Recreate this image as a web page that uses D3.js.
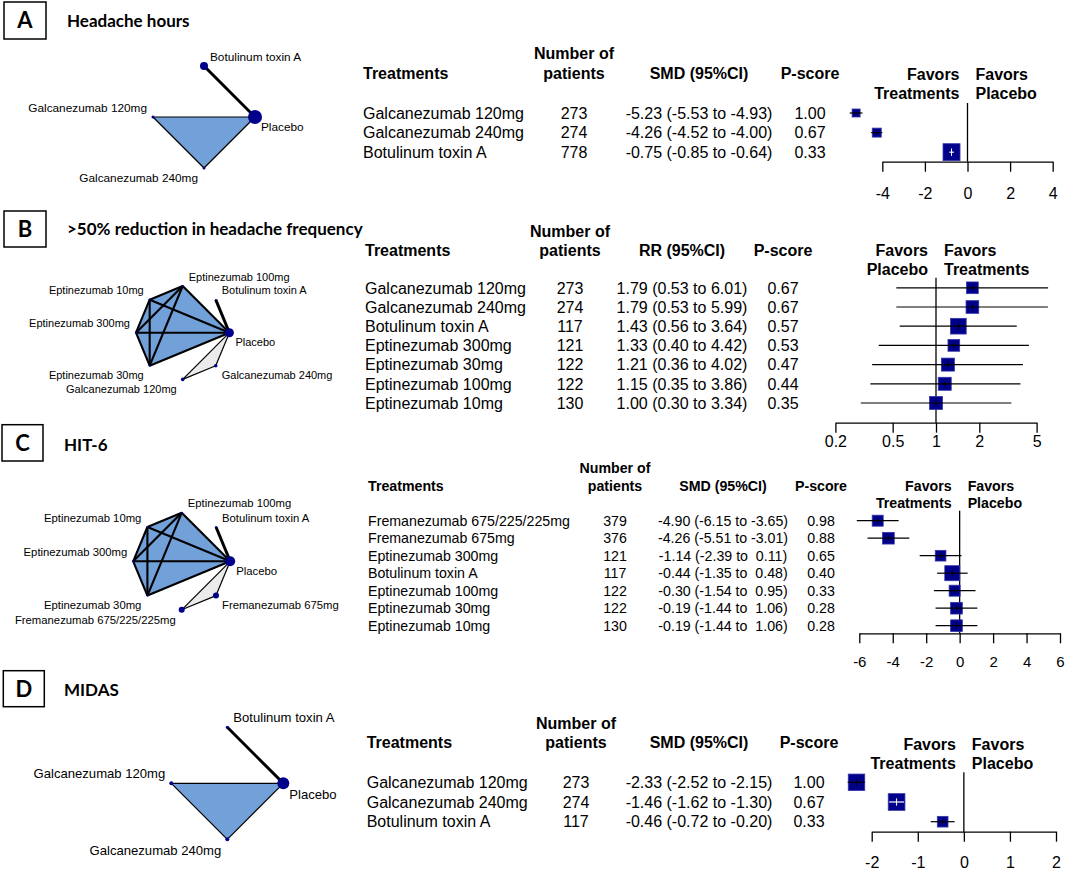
<!DOCTYPE html>
<html>
<head>
<meta charset="utf-8">
<script src="https://cdn.jsdelivr.net/npm/d3@7"></script>
<style>
body { margin: 0; background: #fff; }
svg text { font-family: "Liberation Sans", Arial, sans-serif; fill: #000; }
svg text.pre { white-space: pre; }
</style>
</head>
<body>
<svg id="fig" width="1065" height="870"></svg>
<script>
// ---------- A: headache hours
const aTreat = ["Galcanezumab 120mg", "Galcanezumab 240mg", "Botulinum toxin A"]
const aN = [273, 274, 778]
const aEst = [-5.23, -4.26, -0.75]
const aLow = [-5.53, -4.52, -0.85]
const aHigh = [-4.93, -4.00, -0.64]
const aPscore = [1.00, 0.67, 0.33]
const aWeight = [64, 81, 289]
const aTicks = [-4, -2, 0, 2, 4]
const aNodes = ["Placebo", "Botulinum toxin A", "Galcanezumab 120mg", "Galcanezumab 240mg"]
const aEdges = [["Placebo", "Botulinum toxin A", 3], ["Placebo", "Galcanezumab 120mg", 1],
	["Placebo", "Galcanezumab 240mg", 1], ["Galcanezumab 120mg", "Galcanezumab 240mg", 1]]
const aArms = [["Placebo", "Galcanezumab 120mg", "Galcanezumab 240mg"]]

// ---------- B: >50% reduction in headache frequency
const bTreat = ["Galcanezumab 120mg", "Galcanezumab 240mg", "Botulinum toxin A", "Eptinezumab 300mg",
	"Eptinezumab 30mg", "Eptinezumab 100mg", "Eptinezumab 10mg"]
const bN = [273, 274, 117, 121, 122, 122, 130]
const bEst = [1.79, 1.79, 1.43, 1.33, 1.21, 1.15, 1.00]
const bLow = [0.53, 0.53, 0.56, 0.40, 0.36, 0.35, 0.30]
const bHigh = [6.01, 5.99, 3.64, 4.42, 4.02, 3.86, 3.34]
const bPscore = [0.67, 0.67, 0.57, 0.53, 0.47, 0.44, 0.35]
const bWeight = [137, 161, 246, 137, 169, 169, 169]
const bTicks = [0.2, 0.5, 1, 2, 5]
const bNodes = ["Placebo", "Botulinum toxin A", "Eptinezumab 100mg", "Eptinezumab 10mg",
	"Eptinezumab 300mg", "Eptinezumab 30mg", "Galcanezumab 120mg", "Galcanezumab 240mg"]
const eptiGroup = ["Placebo", "Eptinezumab 100mg", "Eptinezumab 10mg", "Eptinezumab 300mg", "Eptinezumab 30mg"]
const eptiEdges = d3.cross(eptiGroup, eptiGroup)
	.filter(p => eptiGroup.indexOf(p[0]) < eptiGroup.indexOf(p[1]))
	.map(p => [p[0], p[1], 2])
const bEdges = [["Placebo", "Botulinum toxin A", 3],
	["Placebo", "Galcanezumab 120mg", 1], ["Placebo", "Galcanezumab 240mg", 1],
	["Galcanezumab 120mg", "Galcanezumab 240mg", 1]].concat(eptiEdges)
const bArms = [eptiGroup, ["Placebo", "Galcanezumab 120mg", "Galcanezumab 240mg"]]

// ---------- C: HIT-6
const cTreat = ["Fremanezumab 675/225/225mg", "Fremanezumab 675mg", "Eptinezumab 300mg", "Botulinum toxin A",
	"Eptinezumab 100mg", "Eptinezumab 30mg", "Eptinezumab 10mg"]
const cN = [379, 376, 121, 117, 122, 122, 130]
const cEst = [-4.90, -4.26, -1.14, -0.44, -0.30, -0.19, -0.19]
const cLow = [-6.15, -5.51, -2.39, -1.35, -1.54, -1.44, -1.44]
const cHigh = [-3.65, -3.01, 0.11, 0.48, 0.95, 1.06, 1.06]
const cPscore = [0.98, 0.88, 0.65, 0.40, 0.33, 0.28, 0.28]
const cWeight = [121, 137, 114, 225, 121, 137, 137]
const cTicks = [-6, -4, -2, 0, 2, 4, 6]
const cNodes = ["Placebo", "Botulinum toxin A", "Eptinezumab 100mg", "Eptinezumab 10mg",
	"Eptinezumab 300mg", "Eptinezumab 30mg", "Fremanezumab 675/225/225mg", "Fremanezumab 675mg"]
const cEdges = [["Placebo", "Botulinum toxin A", 3],
	["Placebo", "Fremanezumab 675/225/225mg", 1], ["Placebo", "Fremanezumab 675mg", 1],
	["Fremanezumab 675/225/225mg", "Fremanezumab 675mg", 1]].concat(eptiEdges)
const cArms = [eptiGroup, ["Placebo", "Fremanezumab 675/225/225mg", "Fremanezumab 675mg"]]

// ---------- D: MIDAS
const dTreat = ["Galcanezumab 120mg", "Galcanezumab 240mg", "Botulinum toxin A"]
const dN = [273, 274, 117]
const dEst = [-2.33, -1.46, -0.46]
const dLow = [-2.52, -1.62, -0.72]
const dHigh = [-2.15, -1.30, -0.20]
const dPscore = [1.00, 0.67, 0.33]
const dWeight = [272, 279, 114]
const dTicks = [-2, -1, 0, 1, 2]
const dNodes = aNodes
const dEdges = aEdges
const dArms = aArms

const blueFill = "#72a0d8"
const greyFill = "#ebebeb"
const navy = "#00008b"

var panels = [
	{
		letter: "A", box: [4, 2, 42, 37], title: "Headache hours", titlePos: [67, 27],
		net: {nodes: aNodes, edges: aEdges, arms: aArms, fills: [blueFill], cx: 204, cy: 117, r: 51, font: 11.8,
			nodeR: {"Placebo": 7, "Botulinum toxin A": 4, "Galcanezumab 120mg": 1.5, "Galcanezumab 240mg": 1.5}},
		treat: aTreat, n: aN, est: aEst, low: aLow, high: aHigh, pscore: aPscore, weight: aWeight, measure: "SMD (95%CI)",
		cols: [363, 574, 699, 810], headY: 79, numY: 59, font: 16, y0: 113, step: 19.6,
		log: false, domain: [-4, 4], range: [882.3, 1052.7], ticks: aTicks, axisY: 161.7, labelY: 199, tickFont: 16,
		left: ["Favors", "Treatments"], right: ["Favors", "Placebo"], favY: 80, favFont: 16
	},
	{
		letter: "B", box: [4, 211, 42, 36], title: ">50% reduction in headache frequency", titlePos: [67, 235],
		net: {nodes: bNodes, edges: bEdges, arms: bArms, fills: [blueFill, greyFill], cx: 182.7, cy: 332.7, r: 46.7, font: 11,
			nodeR: {"Placebo": 4.5, "Botulinum toxin A": 0.8, "Galcanezumab 120mg": 1.8, "Galcanezumab 240mg": 1.8}},
		treat: bTreat, n: bN, est: bEst, low: bLow, high: bHigh, pscore: bPscore, weight: bWeight, measure: "RR (95%CI)",
		cols: [365, 570, 682, 783], headY: 256, numY: 237, font: 16, y0: 287.8, step: 19.2,
		log: true, domain: [0.2, 5], range: [835.4, 1036.6], ticks: bTicks, axisY: 422.7, labelY: 447, tickFont: 16,
		left: ["Favors", "Placebo"], right: ["Favors", "Treatments"], favY: 256, favFont: 16
	},
	{
		letter: "C", box: [2, 424.7, 41, 36.3], title: "HIT-6", titlePos: [64, 450.7],
		net: {nodes: cNodes, edges: cEdges, arms: cArms, fills: [blueFill, greyFill], cx: 181.7, cy: 561.3, r: 48.5, font: 11.3,
			nodeR: {"Placebo": 5, "Botulinum toxin A": 1, "Fremanezumab 675/225/225mg": 3, "Fremanezumab 675mg": 3}},
		treat: cTreat, n: cN, est: cEst, low: cLow, high: cHigh, pscore: cPscore, weight: cWeight, measure: "SMD (95%CI)",
		cols: [368, 615, 723, 821], headY: 491, numY: 473.3, font: 14.2, y0: 520.7, step: 17.5,
		log: false, domain: [-6, 6], range: [859.3, 1060], ticks: cTicks, axisY: 633.3, labelY: 667, tickFont: 15,
		left: ["Favors", "Treatments"], right: ["Favors", "Placebo"], favY: 491, favFont: 14.2
	},
	{
		letter: "D", box: [3.3, 670.7, 41, 36], title: "MIDAS", titlePos: [64, 695.7],
		net: {nodes: dNodes, edges: dEdges, arms: dArms, fills: [blueFill], cx: 227.3, cy: 783.3, r: 56, font: 13.1,
			nodeR: {"Placebo": 6, "Botulinum toxin A": 1.5, "Galcanezumab 120mg": 2, "Galcanezumab 240mg": 2}},
		treat: dTreat, n: dN, est: dEst, low: dLow, high: dHigh, pscore: dPscore, weight: dWeight, measure: "SMD (95%CI)",
		cols: [366.7, 576, 699, 809], headY: 748.3, numY: 729.3, font: 16, y0: 782.3, step: 19.7,
		log: false, domain: [-2, 2], range: [871.7, 1056], ticks: dTicks, axisY: 831.7, labelY: 868.3, tickFont: 16,
		left: ["Favors", "Treatments"], right: ["Favors", "Placebo"], favY: 750, favFont: 16
	}
]

const svg = d3.select("#fig")
const boxSide = d3.scaleSqrt().domain([0, 100]).range([0, 10])
const edgeWidth = d3.scaleLinear().domain([1, 3]).range([1.2, 3])

function drawNetwork(g, net) {
	var ang = d3.scaleLinear().domain([0, net.nodes.length]).range([0, 360])
	var pos = {}
	net.nodes.forEach((name, i) => {
		var deg = ang(i), rad = deg * Math.PI / 180
		pos[name] = {x: net.cx + net.r * Math.cos(rad), y: net.cy - net.r * Math.sin(rad), deg: deg}
	})

	// multi-arm studies as filled polygons
	net.arms.forEach((arm, k) => {
		var hull = d3.polygonHull(arm.map(n => [pos[n].x, pos[n].y]))
		g.append("path")
			.attr("d", "M" + hull.join("L") + "Z")
			.attr("fill", net.fills[k])
	})

	g.selectAll(null).data(net.edges).join("line")
		.attr("x1", d => pos[d[0]].x).attr("y1", d => pos[d[0]].y)
		.attr("x2", d => pos[d[1]].x).attr("y2", d => pos[d[1]].y)
		.attr("stroke", "#000")
		.attr("stroke-width", d => edgeWidth(d[2]))

	g.selectAll(null).data(net.nodes).join("circle")
		.attr("cx", d => pos[d].x).attr("cy", d => pos[d].y)
		.attr("r", d => net.nodeR[d] || 1.1)
		.attr("fill", navy)

	var onLeft = d => pos[d].deg > 90 && pos[d].deg <= 270
	var onTop = d => pos[d].deg > 0 && pos[d].deg <= 180
	g.selectAll(null).data(net.nodes).join("text")
		.attr("x", d => pos[d].x + (onLeft(d) ? -6 : 6))
		.attr("y", d => pos[d].y + (onTop(d) ? -5.5 : net.font + 2.5))
		.attr("text-anchor", d => onLeft(d) ? "end" : "start")
		.attr("font-size", net.font)
		.text(d => d)
}

function drawTable(g, p) {
	var y = d3.scaleLinear().domain([0, 1]).range([p.y0, p.y0 + p.step])
	var f2 = d3.format(".2f")
	var fs = p.log ? f2 : (v => (v < 0 ? "-" : " ") + f2(Math.abs(v)))

	var head = g.append("g").attr("font-weight", "bold").attr("font-size", p.font)
	head.append("text").attr("x", p.cols[0]).attr("y", p.headY).text("Treatments")
	head.append("text").attr("x", p.cols[1]).attr("y", p.numY).attr("text-anchor", "middle").text("Number of")
	head.append("text").attr("x", p.cols[1]).attr("y", p.headY).attr("text-anchor", "middle").text("patients")
	head.append("text").attr("x", p.cols[2]).attr("y", p.headY).attr("text-anchor", "middle").text(p.measure)
	head.append("text").attr("x", p.cols[3]).attr("y", p.headY).attr("text-anchor", "middle").text("P-score")

	var rows = g.selectAll(null).data(p.treat).join("g")
		.attr("transform", (d, i) => `translate(0,${y(i)})`)
		.attr("font-size", p.font)
	rows.append("text").attr("x", p.cols[0]).attr("dy", "0.36em").text(d => d)
	rows.append("text").attr("x", p.cols[1]).attr("dy", "0.36em").attr("text-anchor", "middle").text((d, i) => p.n[i])
	rows.append("text").attr("class", "pre").attr("x", p.cols[2]).attr("dy", "0.36em").attr("text-anchor", "middle")
		.text((d, i) => `${fs(p.est[i]).trim()} (${fs(p.low[i]).trim()} to ${fs(p.high[i])})`.replace("to  -", "to -"))
	rows.append("text").attr("x", p.cols[3]).attr("dy", "0.36em").attr("text-anchor", "middle").text((d, i) => f2(p.pscore[i]))
}

function drawForest(g, p) {
	var x = (p.log ? d3.scaleLog() : d3.scaleLinear()).domain(p.domain).range(p.range)
	var y = d3.scaleLinear().domain([0, 1]).range([p.y0, p.y0 + p.step])
	var ref = p.log ? 1 : 0

	g.append("line")
		.attr("x1", x(ref)).attr("x2", x(ref))
		.attr("y1", y(0) - 10).attr("y2", p.axisY)
		.attr("stroke", "#000").attr("stroke-width", 1.3)

	var axis = g.append("g")
		.attr("transform", `translate(0,${p.axisY})`)
		.call(d3.axisBottom(x).tickValues(p.ticks).tickSize(10).tickSizeOuter(0)
			.tickPadding(p.labelY - p.axisY - 10 - 0.71 * p.tickFont)
			.tickFormat(d => String(d)))
	axis.selectAll("path, line").attr("stroke", "#000").attr("stroke-width", 1.3)
	axis.selectAll("text").attr("font-size", p.tickFont).attr("font-family", '"Liberation Sans", Arial, sans-serif').attr("fill", "#000")

	var fav = g.append("g").attr("font-weight", "bold").attr("font-size", p.favFont)
	p.left.forEach((t, k) => fav.append("text").attr("x", x(ref) - 8).attr("y", p.favY + k * p.favFont * 1.2)
		.attr("text-anchor", "end").text(t))
	p.right.forEach((t, k) => fav.append("text").attr("x", x(ref) + 8).attr("y", p.favY + k * p.favFont * 1.2)
		.text(t))

	var rows = g.selectAll(null).data(p.est).join("g")
		.attr("transform", (d, i) => `translate(0,${y(i)})`)
	rows.each(function(d, i) {
		var row = d3.select(this)
		var s = boxSide(p.weight[i])
		// CI drawn white when it sits inside the box
		var inside = (x(p.high[i]) - x(p.low[i])) <= s
		var lineCol = inside ? "#fff" : "#000"
		row.append("rect")
			.attr("x", x(d) - s / 2).attr("y", -s / 2)
			.attr("width", s).attr("height", s)
			.attr("fill", navy).attr("stroke", "#3535a8").attr("stroke-width", 0.8)
		row.append("line")
			.attr("x1", x(p.low[i])).attr("x2", x(p.high[i]))
			.attr("stroke", lineCol).attr("stroke-width", 1.2)
		row.append("line")
			.attr("x1", x(d)).attr("x2", x(d))
			.attr("y1", -s * 0.22).attr("y2", s * 0.22)
			.attr("stroke", lineCol).attr("stroke-width", 1)
	})
}

panels.forEach(p => {
	var g = svg.append("g")
	g.append("rect")
		.attr("x", p.box[0]).attr("y", p.box[1]).attr("width", p.box[2]).attr("height", p.box[3])
		.attr("fill", "none").attr("stroke", "#000").attr("stroke-width", 1.5)
	g.append("text")
		.attr("x", p.box[0] + p.box[2] / 2).attr("y", p.box[1] + p.box[3] / 2).attr("dy", "0.36em")
		.attr("text-anchor", "middle").attr("font-weight", "bold").attr("font-size", 22)
		.style("font-family", "Lato, sans-serif")
		.text(p.letter)
	g.append("text")
		.attr("x", p.titlePos[0]).attr("y", p.titlePos[1])
		.attr("font-weight", "bold").attr("font-size", 17)
		.style("font-family", "Lato, sans-serif")
		.text(p.title)
	drawNetwork(g, p.net)
	drawTable(g, p)
	drawForest(g, p)
})
</script>
</body>
</html>
